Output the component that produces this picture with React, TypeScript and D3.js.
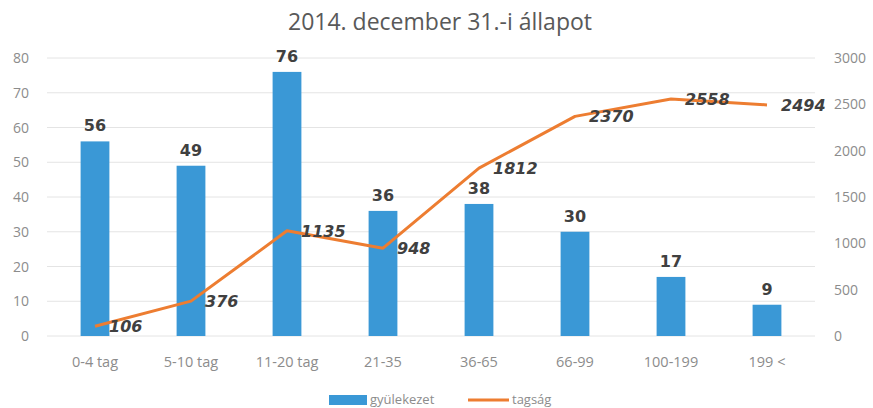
import React, { useEffect, useRef } from "react";
import * as d3 from "d3";

const categories = ["0-4 tag", "5-10 tag", "11-20 tag", "21-35", "36-65", "66-99", "100-199", "199 <"];
const gyulekezet = [56, 49, 76, 36, 38, 30, 17, 9];
const tagsag = [106, 376, 1135, 948, 1812, 2370, 2558, 2494];
const leftTicks = [0, 10, 20, 30, 40, 50, 60, 70, 80];
const rightTicks = [0, 500, 1000, 1500, 2000, 2500, 3000];

const W = 873;
const H = 408;
const FONT = "'Open Sans', sans-serif";
const BOLD = "'DejaVu Sans', sans-serif";

export default function App() {
  const ref = useRef<SVGSVGElement>(null);

  useEffect(() => {
    const svg = d3.select(ref.current);
    svg.selectAll("*").remove();

    const left = 47, right = 815, top = 58, bottom = 336;

    const x = d3.scaleBand().domain(categories).range([left, right]).paddingInner(0.7).paddingOuter(0.35);
    const yL = d3.scaleLinear().domain([0, 80]).range([bottom, top]);
    const yR = d3.scaleLinear().domain([0, 3000]).range([bottom, top]);
    const cx = (c: string) => (x(c) as number) + x.bandwidth() / 2;

    // title
    svg.append("text")
      .attr("x", 440).attr("y", 30)
      .attr("text-anchor", "middle")
      .style("font-family", FONT).style("font-size", "23px").style("fill", "#595959")
      .text("2014. december 31.-i állapot");

    // gridlines
    svg.append("g").selectAll("line")
      .data(leftTicks)
      .enter().append("line")
      .attr("x1", left).attr("x2", right)
      .attr("y1", d => yL(d)).attr("y2", d => yL(d))
      .style("stroke", "#e4e4e4").style("stroke-width", 1);

    // left ticks
    svg.append("g").selectAll("text")
      .data(leftTicks)
      .enter().append("text")
      .attr("x", 29).attr("y", d => yL(d) + 5)
      .attr("text-anchor", "end")
      .style("font-family", FONT).style("font-size", "14px").style("fill", "#8c8c8c")
      .text(d => d);

    // right ticks
    svg.append("g").selectAll("text")
      .data(rightTicks)
      .enter().append("text")
      .attr("x", 834).attr("y", d => yR(d) + 5)
      .attr("text-anchor", "start")
      .style("font-family", FONT).style("font-size", "14px").style("fill", "#8c8c8c")
      .text(d => d);

    // category labels
    svg.append("g").selectAll("text")
      .data(categories)
      .enter().append("text")
      .attr("x", d => cx(d)).attr("y", 367)
      .attr("text-anchor", "middle")
      .style("font-family", FONT).style("font-size", "14.5px").style("fill", "#8c8c8c")
      .text(d => d);

    // bars
    svg.append("g").selectAll("rect")
      .data(gyulekezet)
      .enter().append("rect")
      .attr("x", (d, i) => x(categories[i]) as number)
      .attr("y", d => yL(d))
      .attr("width", x.bandwidth())
      .attr("height", d => bottom - yL(d))
      .style("fill", "#3a98d6");

    // bar labels
    svg.append("g").selectAll("text")
      .data(gyulekezet)
      .enter().append("text")
      .attr("x", (d, i) => cx(categories[i]))
      .attr("y", d => yL(d) - 10)
      .attr("text-anchor", "middle")
      .style("font-family", BOLD).style("font-size", "16px").style("font-weight", "bold").style("fill", "#404040")
      .text(d => d);

    // line
    const line = d3.line<number>()
      .x((d, i) => cx(categories[i]))
      .y(d => yR(d));

    svg.append("path")
      .datum(tagsag)
      .attr("d", line)
      .style("fill", "none")
      .style("stroke", "#ed7d31")
      .style("stroke-width", 3)
      .style("stroke-linejoin", "round");

    // line labels
    svg.append("g").selectAll("text")
      .data(tagsag)
      .enter().append("text")
      .attr("x", (d, i) => cx(categories[i]) + 14)
      .attr("y", d => yR(d) + 6)
      .attr("text-anchor", "start")
      .style("font-family", BOLD).style("font-size", "16px").style("font-weight", "bold")
      .style("font-style", "italic").style("fill", "#404040")
      .text(d => d);

    // legend
    const lg = svg.append("g");
    lg.append("rect").attr("x", 329).attr("y", 395).attr("width", 38).attr("height", 10).style("fill", "#3a98d6");
    lg.append("text").attr("x", 370).attr("y", 404)
      .style("font-family", FONT).style("font-size", "13px").style("fill", "#8c8c8c")
      .text("gyülekezet");
    lg.append("line").attr("x1", 468).attr("x2", 509).attr("y1", 400).attr("y2", 400)
      .style("stroke", "#ed7d31").style("stroke-width", 3);
    lg.append("text").attr("x", 512).attr("y", 404)
      .style("font-family", FONT).style("font-size", "13px").style("fill", "#8c8c8c")
      .text("tagság");
  }, []);

  return (
    <svg ref={ref} width={W} height={H} style={{ position: "absolute", left: 0, top: 0, background: "#fff" }} />
  );
}
